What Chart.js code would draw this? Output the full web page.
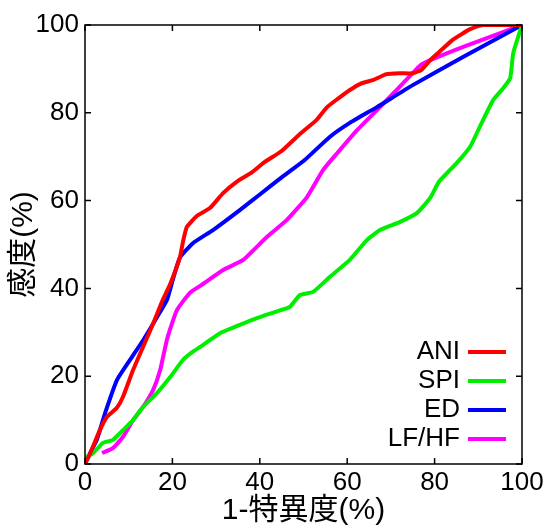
<!DOCTYPE html>
<html>
<head>
<meta charset="utf-8">
<script src="https://cdn.jsdelivr.net/npm/chart.js@4.4.1/dist/chart.umd.min.js"></script>
<style>
  html, body { margin: 0; padding: 0; background: #fff; }
  #wrap { width: 549px; height: 526px; }
</style>
</head>
<body>
<div id="wrap"><canvas id="rocChart" width="549" height="526"></canvas></div>
<script>
// Data (1-特異度 %, 感度 %)
const seriesNames = ['ANI', 'SPI', 'ED', 'LF/HF'];
const seriesColors = ['#ff0000', '#00ee00', '#0000ff', '#ff00ff'];

const aniX = [0, 1, 3.4, 5, 7.3, 8.7, 11, 13.3, 15.6, 17.8, 19.5, 21.7, 22.5, 23.3, 25.6, 28.6, 31.6, 35, 38, 41, 45, 49, 53, 55.4, 58, 60.6, 63, 66, 69, 72, 75, 77, 79, 81, 84, 86, 88, 91, 100];
const aniY = [0, 2, 7.7, 10.7, 12.8, 15.3, 21.4, 26.7, 32, 37.4, 41, 47, 51, 54, 56.5, 58.3, 61.7, 64.5, 66.3, 68.7, 71.3, 75, 78.4, 81.3, 83.3, 85.2, 86.6, 87.5, 88.8, 89, 89, 89.8, 92, 93.8, 96.5, 97.8, 99, 100, 100];

const spiX = [0, 0.4, 1.9, 4.1, 6.4, 8.7, 11, 13.3, 16.5, 19.5, 22.4, 24.7, 27, 30.9, 37, 41.6, 44.6, 46.9, 49.2, 52.2, 56, 60.6, 64.5, 67.5, 72, 76, 79, 81, 85.1, 88.1, 91.1, 93.4, 95.7, 97.3, 98, 100];
const spiY = [0, 1.6, 2.5, 4.8, 5.5, 7.7, 10, 13, 16.2, 19.8, 23.7, 25.6, 27.1, 29.8, 32.3, 34, 35, 35.8, 38.5, 39.2, 42.6, 46.5, 51, 53.3, 55.1, 57.2, 60.6, 64.3, 68.6, 72.2, 78.4, 82.9, 85.6, 87.9, 93.6, 100];

const edX = [0, 0.4, 2.7, 4.6, 7.3, 10.3, 13.3, 16.5, 18.8, 20.1, 21.7, 24.7, 29.3, 35.5, 40, 45, 50, 56, 60.6, 66.8, 75, 86.5, 100];
const edY = [0, 1, 5.5, 11.6, 19.1, 23.7, 28.2, 33.5, 37.5, 42, 47, 50.3, 53.3, 57.9, 61.4, 65.3, 69, 74.5, 77.7, 81.3, 86.3, 92.7, 100];

const lfhfX = [3.9, 6.4, 8.7, 11, 13.3, 15.6, 17.2, 18.8, 21, 24, 27, 31.6, 36.2, 41.6, 46.2, 50.8, 54.5, 57.7, 62.2, 67.5, 72, 76.7, 79, 87, 100];
const lfhfY = [2.5, 3.6, 6.2, 10, 13, 16.9, 21.4, 28.5, 35, 39, 41, 44.2, 46.5, 51.7, 55.6, 60.8, 67, 70.8, 76, 81.3, 85.9, 90.8, 92, 95.2, 100];

const tickValues = [0, 20, 40, 60, 80, 100];

const xLists = [aniX, spiX, edX, lfhfX];
const yLists = [aniY, spiY, edY, lfhfY];

const fontFamily = '"Liberation Sans", Arial, "Noto Sans CJK JP", sans-serif';

// Build datasets
const datasets = seriesNames.map((name, i) => ({
  label: name,
  data: xLists[i].map((x, k) => ({ x: x, y: yLists[i][k] })),
  borderColor: seriesColors[i],
  backgroundColor: seriesColors[i],
  borderWidth: 4,
  pointRadius: 0,
  tension: 0.15,
  fill: false
}));

// Box, inward ticks and legend in the lower right
const framePlugin = {
  id: 'frame',
  afterDraw(chart) {
    const { ctx, chartArea: a, scales } = chart;
    ctx.save();
    ctx.strokeStyle = '#000';
    ctx.lineWidth = 1.5;
    ctx.strokeRect(a.left, a.top, a.right - a.left, a.bottom - a.top);
    const len = 6;
    ctx.beginPath();
    tickValues.forEach(v => {
      const px = scales.x.getPixelForValue(v);
      const py = scales.y.getPixelForValue(v);
      ctx.moveTo(px, a.bottom); ctx.lineTo(px, a.bottom - len);
      ctx.moveTo(px, a.top); ctx.lineTo(px, a.top + len);
      ctx.moveTo(a.left, py); ctx.lineTo(a.left + len, py);
      ctx.moveTo(a.right, py); ctx.lineTo(a.right - len, py);
    });
    ctx.stroke();

    // Legend
    ctx.font = '26px ' + fontFamily;
    ctx.textAlign = 'right';
    ctx.textBaseline = 'middle';
    const textRight = a.right - 62;
    const lineStart = a.right - 54;
    const lineEnd = a.right - 16;
    seriesNames.forEach((name, i) => {
      const y = a.bottom - 112 + i * 29;
      ctx.fillStyle = '#000';
      ctx.fillText(name, textRight, y);
      ctx.strokeStyle = seriesColors[i];
      ctx.lineWidth = 4;
      ctx.beginPath();
      ctx.moveTo(lineStart, y);
      ctx.lineTo(lineEnd, y);
      ctx.stroke();
    });
    ctx.restore();
  }
};

new Chart(document.getElementById('rocChart'), {
  type: 'line',
  data: { datasets: datasets },
  options: {
    responsive: false,
    animation: false,
    parsing: true,
    layout: { padding: { top: 25, right: 27, left: 0, bottom: 0 } },
    plugins: {
      legend: { display: false },
      tooltip: { enabled: false }
    },
    scales: {
      x: {
        type: 'linear',
        min: 0,
        max: 100,
        afterFit: s => { s.height = 62; },
        afterBuildTicks: s => { s.ticks = tickValues.map(v => ({ value: v })); },
        grid: { display: false, drawTicks: false },
        border: { display: false },
        ticks: { color: '#000', padding: 3, font: { size: 26, family: fontFamily } },
        title: {
          display: true,
          text: '1-特異度(%)',
          color: '#000',
          padding: { top: 0, bottom: 0 },
          font: { size: 30, family: fontFamily, lineHeight: 1.0 }
        }
      },
      y: {
        type: 'linear',
        min: 0,
        max: 100,
        afterFit: s => { s.width = 85; },
        afterBuildTicks: s => { s.ticks = tickValues.map(v => ({ value: v })); },
        grid: { display: false, drawTicks: false },
        border: { display: false },
        ticks: { color: '#000', padding: 6, font: { size: 26, family: fontFamily } },
        title: {
          display: true,
          text: '感度(%)',
          color: '#000',
          padding: { top: 9, bottom: 0 },
          font: { size: 30, family: fontFamily, lineHeight: 1.0 }
        }
      }
    }
  },
  plugins: [framePlugin]
});
</script>
</body>
</html>
